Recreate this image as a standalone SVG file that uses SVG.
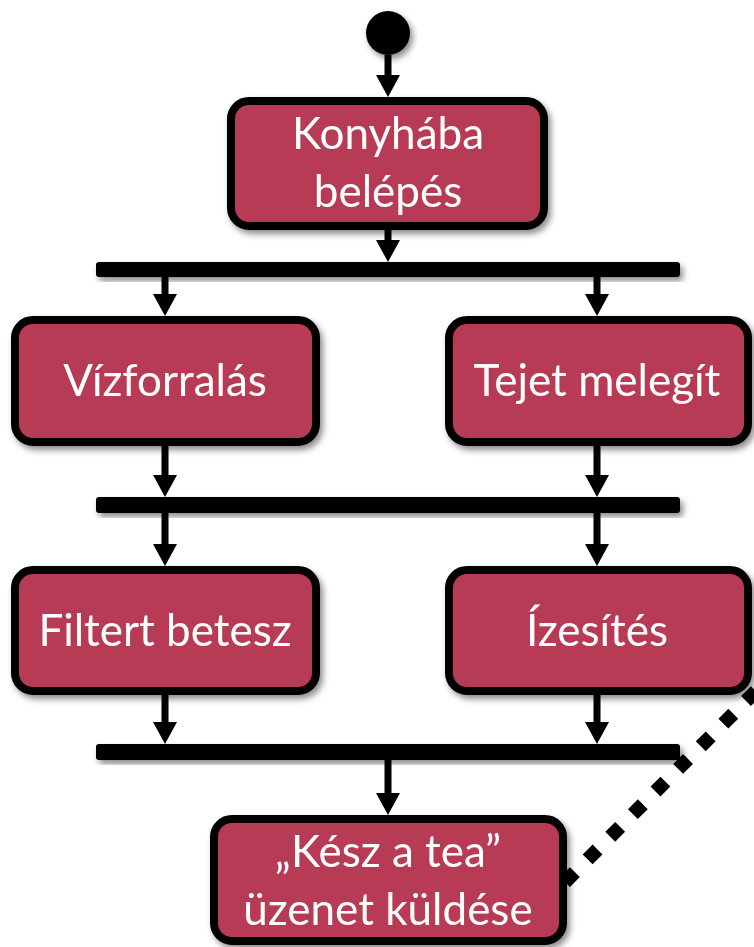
<svg xmlns="http://www.w3.org/2000/svg" width="754" height="947" viewBox="0 0 754 947">
  <style>
    .box { fill: #B83A55; stroke: #000; stroke-width: 8; }
    .bar { fill: #000; }
    .lbl { font-family: Lato, "Open Sans", "Liberation Sans", sans-serif; font-size: 44px; fill: #fff; text-anchor: middle; }
    .flow { stroke: #000; stroke-width: 7; fill: none; marker-end: url(#head); }
    .dots { stroke: #000; stroke-width: 14; fill: none; stroke-dasharray: 14 18; }
  </style>
  <defs>
    <filter id="shadow" x="-10%" y="-10%" width="130%" height="140%">
      <feDropShadow dx="3" dy="4" stdDeviation="3" flood-color="#000" flood-opacity="0.45"/>
    </filter>
    <marker id="head" markerUnits="userSpaceOnUse" markerWidth="24" markerHeight="26" refX="10" refY="12" orient="auto">
      <path d="M0,0 L22,12 L0,24 Z" fill="#000"/>
    </marker>
  </defs>

  <!-- initial node -->
  <g id="start" filter="url(#shadow)">
    <circle cx="388" cy="33" r="22" fill="#000"/>
  </g>

  <!-- fork / join bars -->
  <g id="fork1" filter="url(#shadow)"><rect class="bar" x="96" y="262" width="584" height="15" rx="3"/></g>
  <g id="join1" filter="url(#shadow)"><rect class="bar" x="96" y="497" width="584" height="16" rx="3"/></g>
  <g id="join2" filter="url(#shadow)"><rect class="bar" x="96" y="744" width="584" height="16" rx="3"/></g>

  <!-- actions -->
  <g id="konyhaba" filter="url(#shadow)">
    <rect class="box" x="231" y="101" width="313" height="125" rx="18"/>
    <text class="lbl" x="388" y="149">Konyhába</text>
    <text class="lbl" x="388" y="207">belépés</text>
  </g>
  <g id="vizforralas" filter="url(#shadow)">
    <rect class="box" x="15" y="320" width="301" height="122" rx="18"/>
    <text class="lbl" x="165" y="396">Vízforralás</text>
  </g>
  <g id="tejet" filter="url(#shadow)">
    <rect class="box" x="449" y="320" width="299" height="122" rx="18"/>
    <text class="lbl" x="597" y="396">Tejet melegít</text>
  </g>
  <g id="filtert" filter="url(#shadow)">
    <rect class="box" x="15" y="570" width="301" height="121" rx="18"/>
    <text class="lbl" x="165" y="646">Filtert betesz</text>
  </g>
  <g id="izesites" filter="url(#shadow)">
    <rect class="box" x="449" y="570" width="299" height="121" rx="18"/>
    <text class="lbl" x="597" y="646">Ízesítés</text>
  </g>
  <g id="kesz" filter="url(#shadow)">
    <rect class="box" x="214" y="819" width="349" height="122" rx="18"/>
    <text class="lbl" x="388" y="867">„Kész a tea”</text>
    <text class="lbl" x="388" y="925">üzenet küldése</text>
  </g>

  <!-- connectors -->
  <g id="connectors">
    <line class="flow" x1="388" y1="55" x2="388" y2="85"/>
    <line class="flow" x1="388" y1="230" x2="388" y2="250"/>
    <line class="flow" x1="165" y1="277" x2="165" y2="304"/>
    <line class="flow" x1="597" y1="277" x2="597" y2="304"/>
    <line class="flow" x1="165" y1="446" x2="165" y2="485"/>
    <line class="flow" x1="597" y1="446" x2="597" y2="485"/>
    <line class="flow" x1="165" y1="513" x2="165" y2="554"/>
    <line class="flow" x1="597" y1="513" x2="597" y2="554"/>
    <line class="flow" x1="165" y1="695" x2="165" y2="732"/>
    <line class="flow" x1="597" y1="695" x2="597" y2="732"/>
    <line class="flow" x1="388" y1="760" x2="388" y2="803"/>
    <line class="dots" x1="565" y1="882" x2="762" y2="685"/>
  </g>
</svg>
